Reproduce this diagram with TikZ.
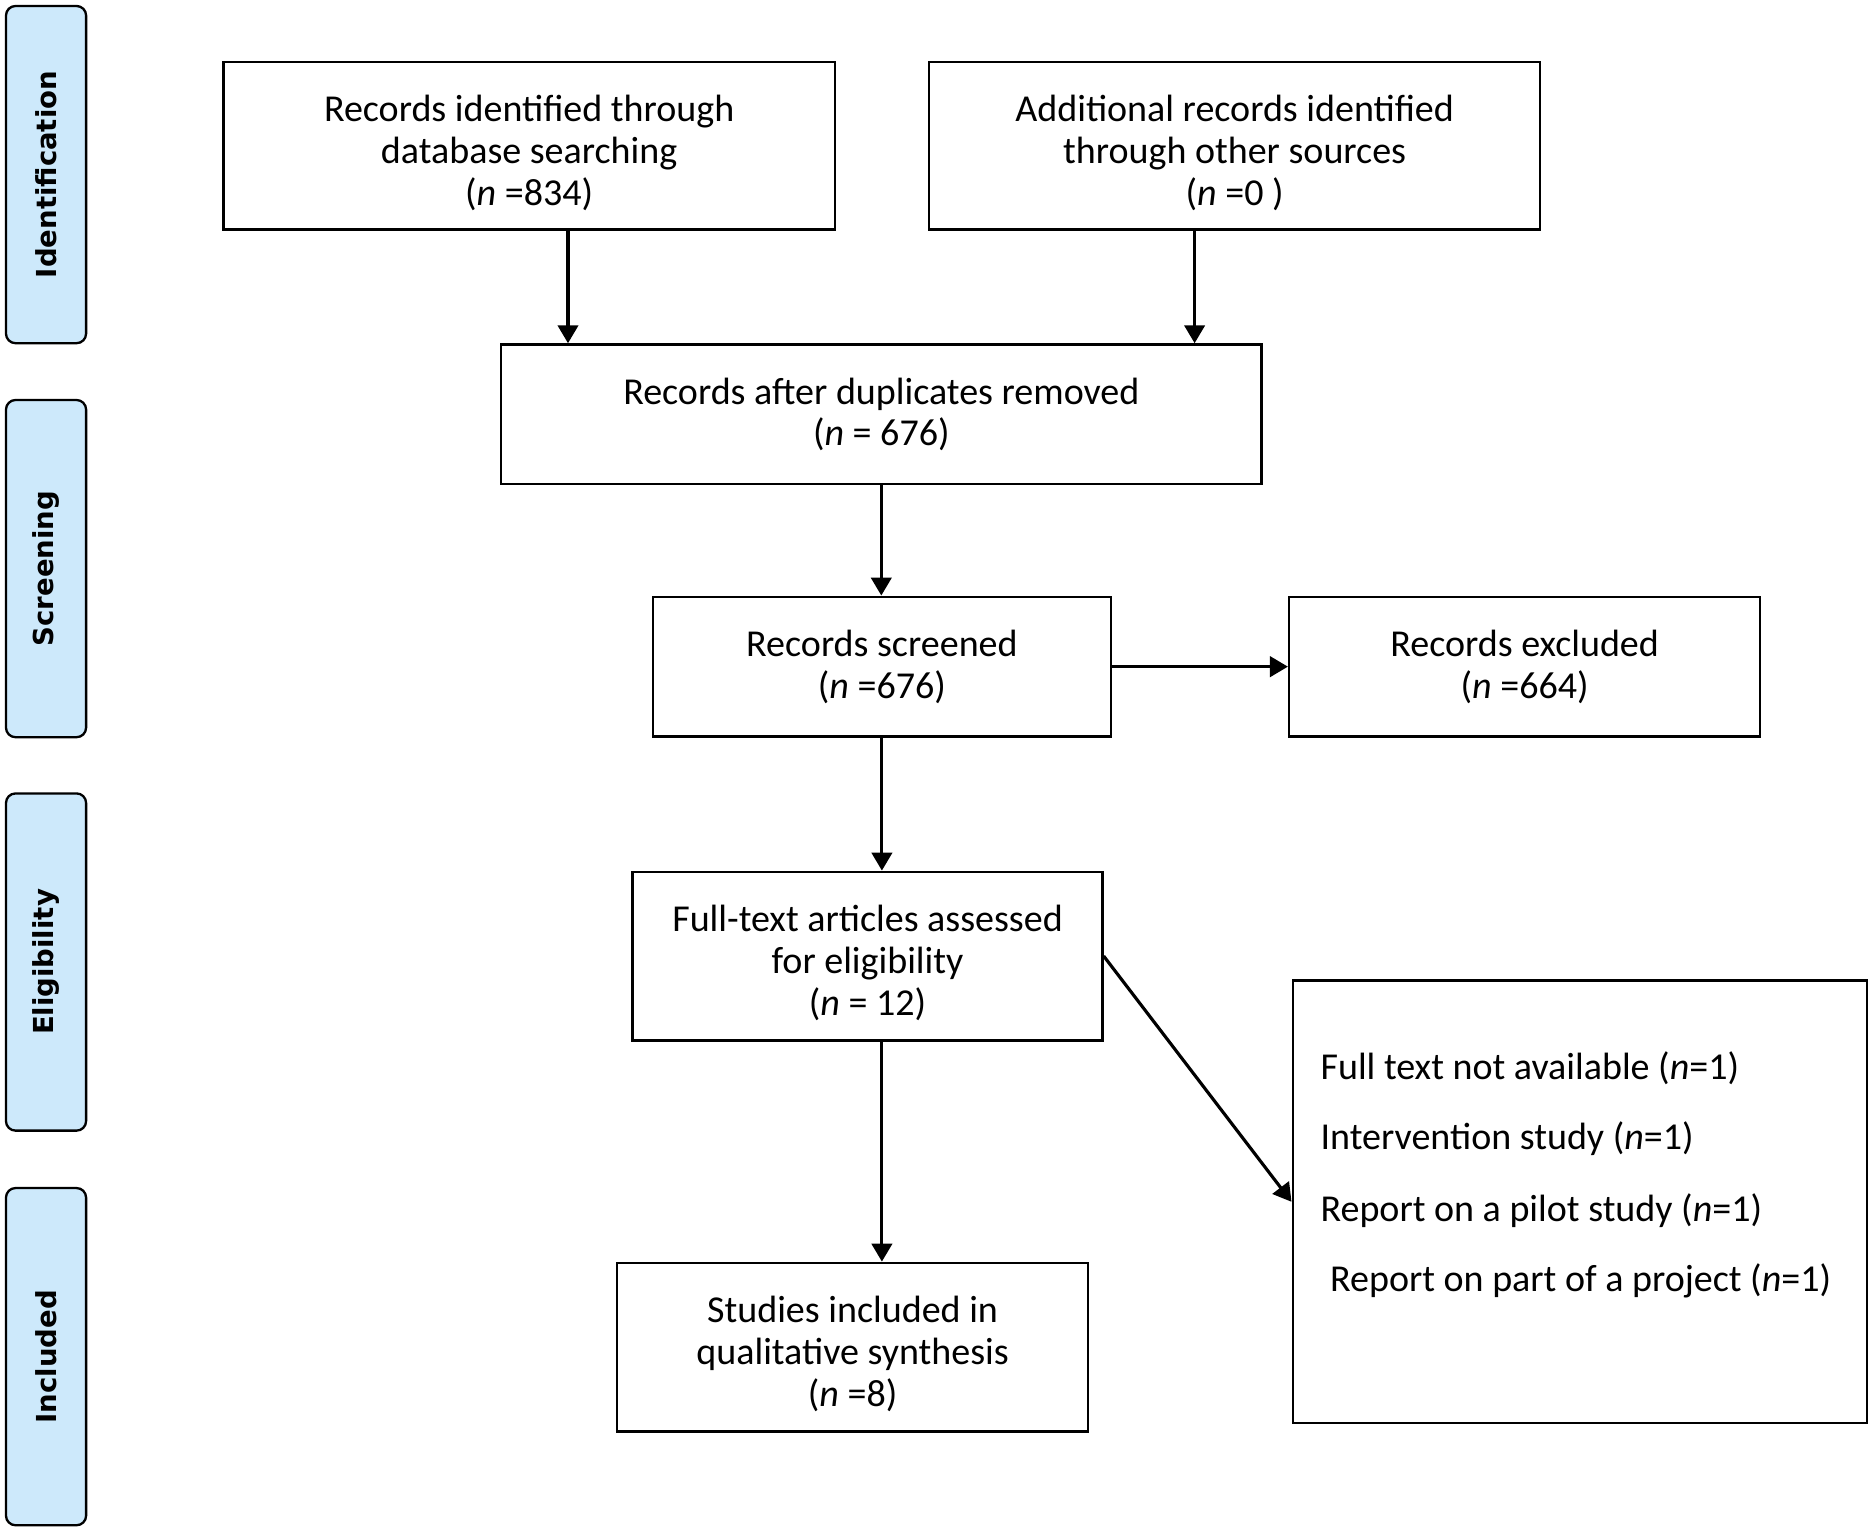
\documentclass[tikz,border=0pt]{standalone}
\usepackage{fontspec}
\setmainfont{Carlito}
\newfontfamily\labelfont{DejaVu Sans}
\usetikzlibrary{arrows.meta}
\definecolor{phasefill}{RGB}{205,233,251}
\newcommand{\liftline}{\rule{0pt}{0.68cm}}
\begin{document}
\begin{tikzpicture}[x=0.02cm,y=-0.02cm,
  box/.style={draw, line width=1.1pt, rectangle, align=center, inner sep=0pt,
    font=\fontsize{18.1}{19.9}\selectfont},
  phase/.style={draw, line width=1.1pt, rounded corners=0.16cm, fill=phasefill,
    minimum width=67*0.02cm, minimum height=282*0.02cm, inner sep=0pt},
  phasetext/.style={rotate=90, font=\labelfont\bfseries\fontsize{13.1}{15}\selectfont},
  reason/.style={anchor=west, inner sep=0pt, font=\fontsize{18.1}{19.9}\selectfont},
  arr/.style={line width=1.5pt, -{Triangle[length=0.30cm,width=0.34cm]}}]
\useasboundingbox (0,0) rectangle (1568,1281);

% phase labels
\node[phase] (p1) at (38.5,146) {};
\node[phasetext] (p1t) at (p1.center) {Identification};
\node[phase] (p2) at (38.5,475.5) {};
\node[phasetext] (p2t) at (p2.center) {Screening};
\node[phase] (p3) at (38.5,804.5) {};
\node[phasetext] (p3t) at (p3.center) {Eligibility};
\node[phase] (p4) at (38.5,1134.5) {};
\node[phasetext] (p4t) at (p4.center) {Included};

% boxes
\node[box, minimum width=511*0.02cm, minimum height=140*0.02cm] (A) at (442.5,122)
  {\liftline Records identified through\\database searching\\(\textit{n} =834)};
\node[box, minimum width=511*0.02cm, minimum height=140*0.02cm] (B) at (1032.5,122)
  {\liftline Additional records identified\\through other sources\\(\textit{n} =0 )};
\node[box, minimum width=636*0.02cm, minimum height=117*0.02cm] (C) at (737,346.5)
  {Records after duplicates removed\\(\textit{n} = 676)};
\node[box, minimum width=383*0.02cm, minimum height=117*0.02cm] (D) at (737.5,557.5)
  {Records screened\\(\textit{n} =676)};
\node[box, minimum width=394*0.02cm, minimum height=117*0.02cm] (E) at (1275,557.5)
  {Records excluded\\(\textit{n} =664)};
\node[box, minimum width=393*0.02cm, minimum height=141*0.02cm] (F) at (725.5,799.5)
  {\liftline Full-text articles assessed\\for eligibility\\(\textit{n} = 12)};
\node[box, minimum width=480*0.02cm, minimum height=370*0.02cm] (G) at (1321,1005) {};
\node[box, minimum width=394*0.02cm, minimum height=141*0.02cm] (H) at (713,1126.5)
  {\liftline Studies included in\\qualitative synthesis\\(\textit{n} =8)};

% reasons
\node[reason] (g1) at (1104,893) {Full text not available (\textit{n}=1)};
\node[reason] (g2) at (1104,952) {Intervention study (\textit{n}=1)};
\node[reason] (g3) at (1104,1012) {Report on a pilot study (\textit{n}=1)};
\node[reason] (g4) at (1112,1071) {Report on part of a project (\textit{n}=1)};

% connectors
\draw[arr] ([xshift=0.65cm]A.south) -- ([xshift=0.65cm]A.south |- C.north);
\draw[arr] ([xshift=-0.67cm]B.south) -- ([xshift=-0.67cm]B.south |- C.north);
\draw[arr] (C.south) -- (C.south |- D.north);
\draw[arr] (D.east) -- (E.west);
\draw[arr] (D.south) -- (D.south |- F.north);
\draw[arr] (F.east) -- (G.west);
\draw[arr] (F.south -| D.south) -- (H.north -| D.south);
\end{tikzpicture}
\end{document}
